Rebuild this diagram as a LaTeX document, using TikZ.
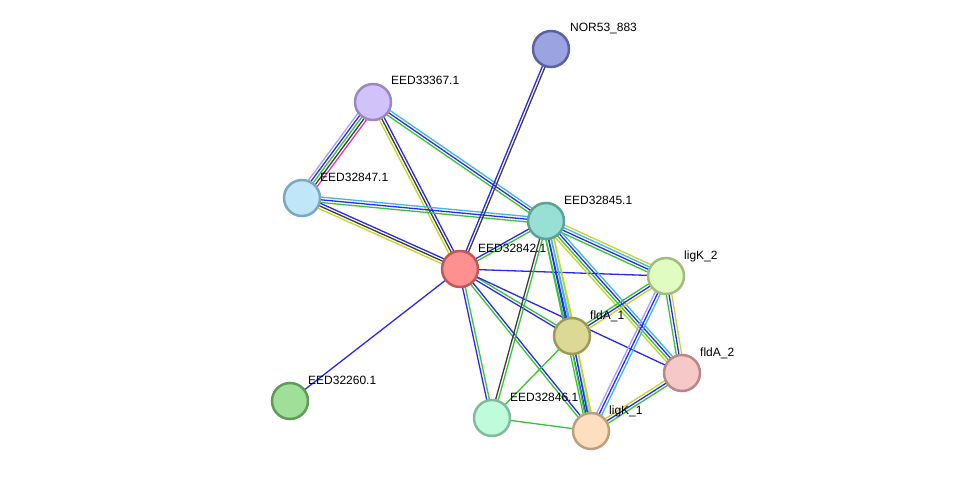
\documentclass[tikz,border=0pt]{standalone}
\usepackage{fontspec}
\setmainfont{Liberation Sans}
\usetikzlibrary{calc, backgrounds}

\definecolor{evgreen}{RGB}{55,195,55}
\definecolor{evblue}{RGB}{40,40,240}
\definecolor{evblack}{RGB}{60,60,60}
\definecolor{evcyan}{RGB}{60,185,220}
\definecolor{evyellow}{RGB}{195,215,40}
\definecolor{evmagenta}{RGB}{220,50,200}
\definecolor{evlav}{RGB}{165,160,250}

\newcommand{\evlinks}[3]{%
  \gdef\nev{0}%
  \foreach \c in {#3}{\pgfmathtruncatemacro{\tmp}{\nev+1}\xdef\nev{\tmp}}%
  \foreach \c [count=\i] in {#3}{%
    \pgfmathsetmacro{\off}{(\i-1-(\nev-1)/2)*2.7}%
    \draw[link, color=\c] ($(#1.center)!\off pt!90:(#2.center)$) -- ($(#2.center)!\off pt!-90:(#1.center)$);
  }%
}

\begin{document}
\begin{tikzpicture}[
    x=1pt, y=-1pt,
    prot/.style={circle, draw, line width=2.5pt, minimum size=36pt, inner sep=0pt},
    lbl/.style={anchor=base west, inner sep=0pt, font=\fontsize{12}{14}\selectfont},
    link/.style={line width=1.3pt}
]
\useasboundingbox (0,0) rectangle (976,476);

\node[prot, fill={rgb,255:red,155;green,163;blue,224}, draw={rgb,255:red,90;green,99;blue,160}] (nor53) at (551,49) {};
\node[prot, fill={rgb,255:red,210;green,194;blue,250}, draw={rgb,255:red,156;green,136;blue,192}] (e33367) at (373,102) {};
\node[prot, fill={rgb,255:red,192;green,230;blue,250}, draw={rgb,255:red,126;green,166;blue,191}] (e32847) at (302,198) {};
\node[prot, fill={rgb,255:red,152;green,223;blue,214}, draw={rgb,255:red,95;green,160;blue,151}] (e32845) at (546,221) {};
\node[prot, fill={rgb,255:red,255;green,144;blue,144}, draw={rgb,255:red,192;green,88;blue,88}] (e32842) at (460,269) {};
\node[prot, fill={rgb,255:red,224;green,252;blue,192}, draw={rgb,255:red,160;green,188;blue,128}] (ligk2) at (666,276) {};
\node[prot, fill={rgb,255:red,220;green,217;blue,150}, draw={rgb,255:red,158;green,154;blue,90}] (flda1) at (572,336) {};
\node[prot, fill={rgb,255:red,246;green,200;blue,200}, draw={rgb,255:red,184;green,136;blue,136}] (flda2) at (682,373) {};
\node[prot, fill={rgb,255:red,159;green,223;blue,152}, draw={rgb,255:red,95;green,156;blue,88}] (e32260) at (290,401) {};
\node[prot, fill={rgb,255:red,192;green,252;blue,220}, draw={rgb,255:red,128;green,188;blue,156}] (e32846) at (492,418) {};
\node[prot, fill={rgb,255:red,253;green,223;blue,192}, draw={rgb,255:red,189;green,159;blue,128}] (ligk1) at (591,431) {};

\node[lbl] (nor53l) at ([shift={(19,-17)}]nor53.center) {NOR53\_883};
\node[lbl] (e33367l) at ([shift={(18,-17)}]e33367.center) {EED33367.1};
\node[lbl] (e32847l) at ([shift={(18,-17)}]e32847.center) {EED32847.1};
\node[lbl] (e32845l) at ([shift={(18,-17)}]e32845.center) {EED32845.1};
\node[lbl] (e32842l) at ([shift={(18,-17)}]e32842.center) {EED32842.1};
\node[lbl] (ligk2l) at ([shift={(18,-17)}]ligk2.center) {ligK\_2};
\node[lbl] (flda1l) at ([shift={(18,-17)}]flda1.center) {fldA\_1};
\node[lbl] (flda2l) at ([shift={(18,-17)}]flda2.center) {fldA\_2};
\node[lbl] (e32260l) at ([shift={(18,-17)}]e32260.center) {EED32260.1};
\node[lbl] (e32846l) at ([shift={(18,-17)}]e32846.center) {EED32846.1};
\node[lbl] (ligk1l) at ([shift={(18,-17)}]ligk1.center) {ligK\_1};

\begin{scope}[on background layer]
\evlinks{e33367}{e32847}{evlav,evblue,evgreen,evblack,evmagenta}
\evlinks{e33367}{e32842}{evyellow,evblack,evblue}
\evlinks{e33367}{e32845}{evgreen,evblue,evcyan}
\evlinks{e32847}{e32845}{evgreen,evblue,evcyan}
\evlinks{e32847}{e32842}{evyellow,evblack,evblue}
\evlinks{nor53}{e32842}{evblue,evblack}
\evlinks{e32842}{e32845}{evgreen,evblue}
\evlinks{e32842}{ligk2}{evblue}
\evlinks{e32842}{flda1}{evblue,evgreen}
\evlinks{e32842}{flda2}{evblue}
\evlinks{e32842}{e32846}{evblue,evgreen}
\evlinks{e32842}{ligk1}{evgreen,evblue}
\evlinks{e32842}{e32260}{evblue}
\evlinks{e32845}{e32846}{evblack,evgreen}
\evlinks{e32845}{ligk2}{evgreen,evblue,evcyan,evyellow}
\evlinks{e32845}{flda1}{evgreen,evblue,evcyan,evyellow}
\evlinks{e32845}{ligk1}{evgreen,evblue,evcyan,evyellow}
\evlinks{e32845}{flda2}{evyellow,evgreen,evblue,evcyan}
\evlinks{ligk2}{flda1}{evgreen,evblue,evyellow}
\evlinks{ligk2}{ligk1}{evlav,evblue,evcyan}
\evlinks{ligk2}{flda2}{evgreen,evblue,evyellow}
\evlinks{flda1}{ligk1}{evgreen,evblue,evyellow}
\evlinks{flda2}{ligk1}{evyellow,evblue,evgreen}
\evlinks{flda1}{e32846}{evgreen}
\evlinks{e32846}{ligk1}{evgreen}
\end{scope}

\end{tikzpicture}
\end{document}
